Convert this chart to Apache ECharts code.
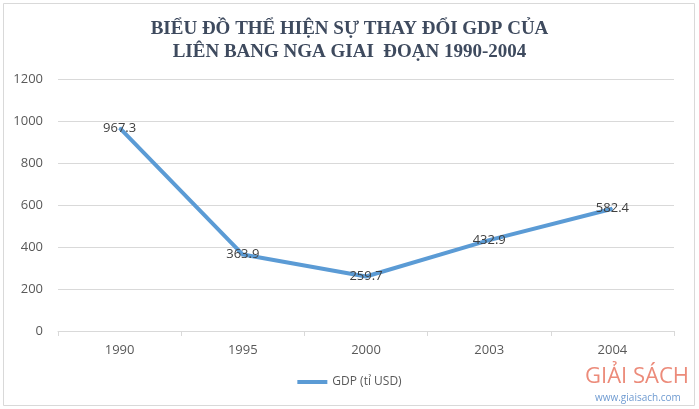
<!DOCTYPE html>
<html><head><meta charset="utf-8">
<script src="https://cdn.jsdelivr.net/npm/echarts@6/dist/echarts.min.js"></script>
<style>html,body{margin:0;padding:0;background:#fff}#c{width:699px;height:409px}</style>
</head><body><div id="c"></div>
<script>
const categories = ['1990', '1995', '2000', '2003', '2004'];
const gdpValues = [967.3, 363.9, 259.7, 432.9, 582.4];
const seriesName = 'GDP (tỉ USD)';
const yTicks = { min: 0, max: 1200, interval: 200 };
const titleLines = ['BIỂU ĐỒ THỂ HIỆN SỰ THAY ĐỔI GDP CỦA', 'LIÊN BANG NGA GIAI  ĐOẠN 1990-2004'];

const chart = echarts.init(document.getElementById('c'), null, { renderer: 'canvas' });
chart.setOption({
  animation: false,
  backgroundColor: '#fff',
  title: {
    text: titleLines.join('\n'),
    left: 'center',
    top: 13,
    textStyle: { fontFamily: 'Liberation Serif', fontWeight: 'bold', fontSize: 19, color: '#3E4A5E', lineHeight: 23 }
  },
  grid: { left: 58, right: 25, top: 79, bottom: 78 },
  legend: {
    bottom: 16,
    left: 'center',
    data: [seriesName],
    itemWidth: 30,
    itemHeight: 4,
    icon: 'rect',
    textStyle: { fontFamily: 'Open Sans', fontSize: 12, color: '#595959' }
  },
  xAxis: {
    type: 'category',
    data: categories,
    boundaryGap: true,
    axisLine: { lineStyle: { color: '#D9D9D9' } },
    axisTick: { show: true, lineStyle: { color: '#D9D9D9' }, length: 5 },
    axisLabel: { fontFamily: 'Open Sans', fontSize: 13, color: '#595959', margin: 13 }
  },
  yAxis: {
    type: 'value',
    min: yTicks.min, max: yTicks.max, interval: yTicks.interval,
    axisLine: { show: false },
    axisTick: { show: false },
    splitLine: { lineStyle: { color: '#D9D9D9' } },
    axisLabel: { fontFamily: 'Open Sans', fontSize: 13, color: '#595959', margin: 15, formatter: v => String(v) }
  },
  series: [{
    name: seriesName,
    type: 'line',
    data: gdpValues,
    showSymbol: true,
    symbol: 'circle',
    symbolSize: 1,
    lineStyle: { color: '#5B9BD5', width: 4 },
    itemStyle: { color: '#5B9BD5' },
    label: { show: true, position: 'inside', fontFamily: 'Open Sans', fontSize: 13, color: '#404040', formatter: p => p.value.toFixed(1) }
  }],
  graphic: [
    { type: 'rect', shape: { x: 3.5, y: 3.5, width: 691, height: 402 }, style: { fill: 'none', stroke: '#D9D9D9', lineWidth: 1 }, silent: true },
    { type: 'text', left: 585, top: 366, style: { text: 'GIẢI SÁCH', fontFamily: 'Open Sans', fontSize: 22, fill: '#EC8B7A' }, silent: true },
    { type: 'text', left: 595, top: 393, style: { text: 'www.giaisach.com', fontFamily: 'Open Sans', fontSize: 10, fill: '#6F9BD1' }, silent: true }
  ]
});
</script></body></html>
